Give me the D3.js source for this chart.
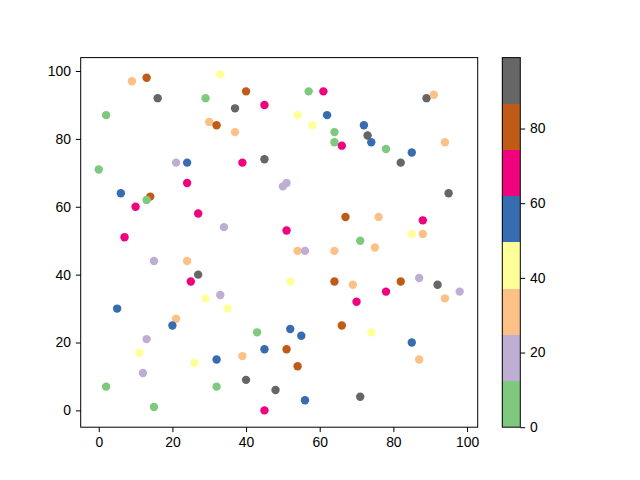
<!DOCTYPE html>
<html><head><meta charset="utf-8">
<script src="https://cdn.jsdelivr.net/npm/d3@7"></script>
<style>body{margin:0;background:#fff}svg{display:block}text{font-family:"Liberation Sans",Arial,sans-serif;font-size:13.9px;fill:#000}</style>
</head><body><svg id="c" width="640" height="480"></svg>
<script>
const xs = [9,13,16,33,29,40,37,45,2,30,32,37,0,21,24,39,45,24,6,14,13,10,27,34,7,
 50,51,57,61,89,91,54,62,58,72,64,73,74,64,66,94,78,85,82,95,67,76,88,51,85,88,71,
 15,24,27,25,29,33,35,5,21,20,43,45,13,11,26,32,39,12,2,32,40,48,15,45,
 54,56,64,75,52,64,69,82,87,92,98,94,78,70,52,55,66,74,85,51,54,87,56,71];
const ys = [97,98,92,99,92,94,89,90,87,85,84,82,71,73,73,73,74,67,64,63,62,60,58,54,51,
 66,67,94,94,92,93,87,87,84,84,82,81,79,79,78,79,77,76,73,64,57,57,56,53,52,52,50,
 44,44,40,38,33,34,30,30,27,25,23,18,21,17,14,15,16,11,7,7,9,6,1,0,
 47,47,47,48,38,38,37,38,39,37,35,33,35,32,24,22,25,23,20,18,13,15,3,4];
const cs = [31,80,93,43,6,80,93,68,6,31,80,31,6,18,56,68,93,68,56,80,6,68,68,18,68,
 18,18,6,68,93,31,43,56,43,56,6,93,56,6,68,31,6,56,93,93,80,31,68,68,43,31,6,
 18,31,93,68,43,18,43,56,31,56,6,56,18,43,43,56,31,18,6,6,93,93,6,68,
 31,18,31,31,43,80,31,80,18,93,18,31,68,68,56,56,80,43,56,80,80,31,56,93];
const xTicks = [0,20,40,60,80,100];
const yTicks = [0,20,40,60,80,100];
const cTicks = [0,20,40,60,80];
const cRange = [0,99];
const accent = ["#7fc97f","#beaed4","#fdc086","#ffff99","#386cb0","#f0027f","#bf5b17","#666666"];

const svg = d3.select("#c");
const L=80.7, R=477.7, T=57.6, B=427.2;
function pad(ext){const d=ext[1]-ext[0];return [ext[0]-0.05*d, ext[1]+0.05*d];}
const x = d3.scaleLinear().domain(pad(d3.extent(xs))).range([L,R]);
const y = d3.scaleLinear().domain(pad(d3.extent(ys))).range([B,T]);
const color = d3.scaleQuantize().domain(cRange).range(accent);

const pts = xs.map((v,i)=>({x:v,y:ys[i],c:cs[i]}));
svg.append("g").selectAll("circle").data(pts).join("circle")
  .attr("cx",d=>x(d.x)).attr("cy",d=>y(d.y)).attr("r",4.2)
  .attr("fill",d=>color(d.c));

svg.append("rect").attr("x",L).attr("y",T).attr("width",R-L).attr("height",B-T)
  .attr("fill","none").attr("stroke","#000").attr("stroke-width",1);

const xa = svg.append("g").attr("transform",`translate(0,${B})`)
  .call(d3.axisBottom(x).tickValues(xTicks).tickSize(4.9).tickPadding(4.9));
const ya = svg.append("g").attr("transform",`translate(${L},0)`)
  .call(d3.axisLeft(y).tickValues(yTicks).tickSize(4.9).tickPadding(4.9));
[xa,ya].forEach(a=>{a.select(".domain").remove();a.selectAll("text").style("font-size","13.9px").attr("fill","#000");a.selectAll("line").attr("stroke","#000");});

// colorbar
const CL=502.3, CR=520.3;
const cy = d3.scaleLinear().domain(cRange).range([B,T]);
const bins = accent.map((col,i)=>{const e=color.invertExtent(col);return {col,e};});
svg.append("g").selectAll("rect").data(bins).join("rect")
  .attr("x",CL).attr("width",CR-CL)
  .attr("y",d=>cy(d.e[1])).attr("height",d=>cy(d.e[0])-cy(d.e[1]))
  .attr("fill",d=>d.col).attr("shape-rendering","crispEdges");
svg.append("rect").attr("x",CL).attr("y",T).attr("width",CR-CL).attr("height",B-T)
  .attr("fill","none").attr("stroke","#000").attr("stroke-width",1);
const ca = svg.append("g").attr("transform",`translate(${CR},0)`)
  .call(d3.axisRight(cy).tickValues(cTicks).tickSize(4.9).tickPadding(4.9));
ca.select(".domain").remove();
ca.selectAll("text").style("font-size","13.9px").attr("fill","#000");
ca.selectAll("line").attr("stroke","#000");
</script></body></html>
